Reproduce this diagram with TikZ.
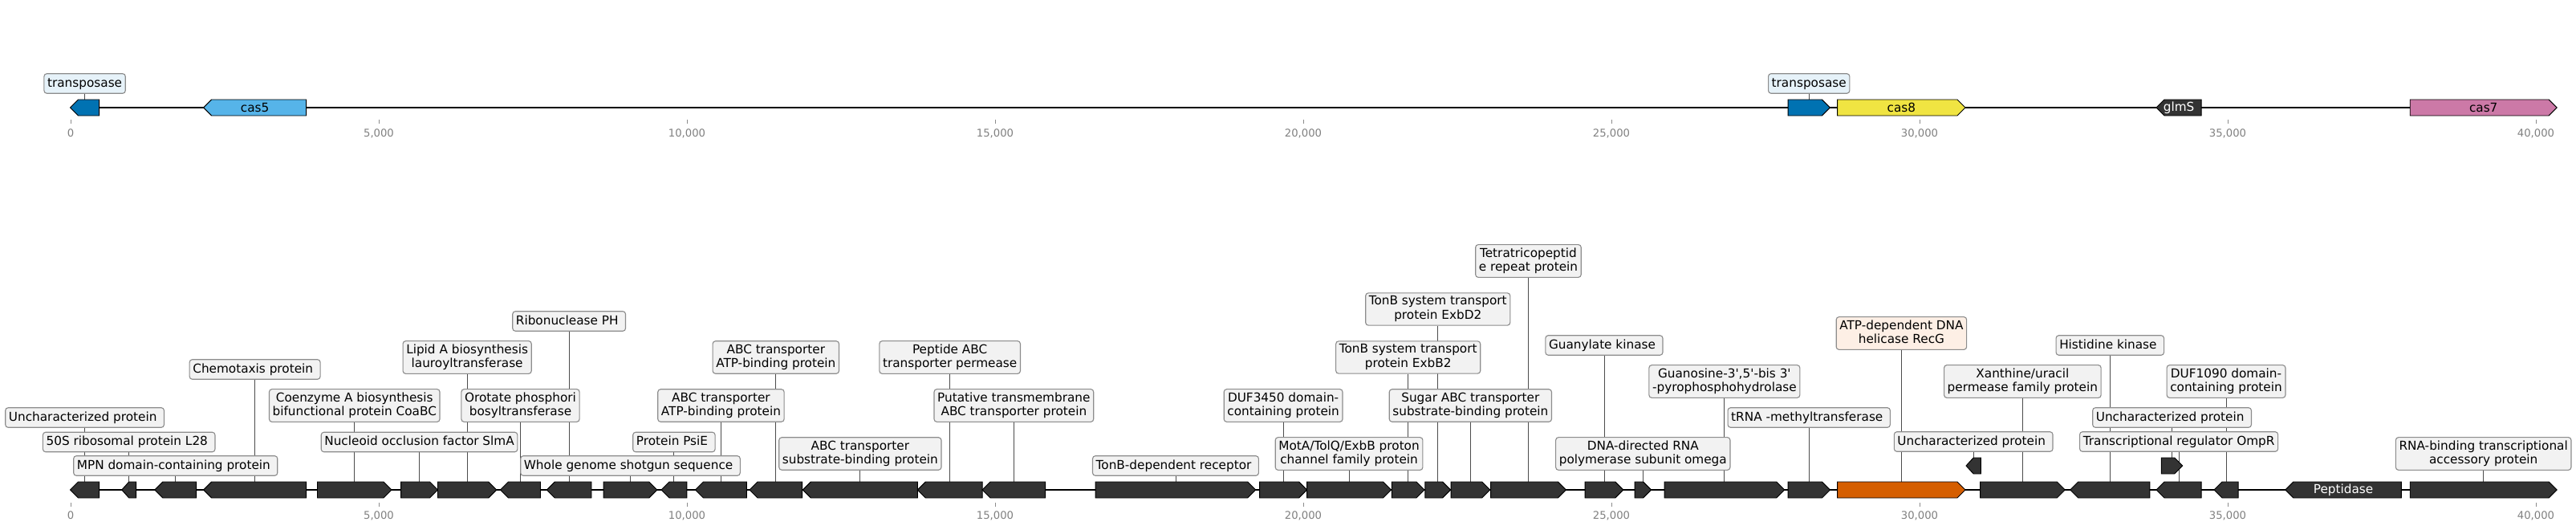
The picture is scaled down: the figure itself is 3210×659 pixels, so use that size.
\documentclass[tikz,border=0pt]{standalone}
\usepackage{fontspec}
\setmainfont{DejaVu Sans}
\usetikzlibrary{positioning}

\definecolor{darkgene}{HTML}{333333}
\definecolor{transp}{HTML}{0072B2}
\definecolor{casfive}{HTML}{56B4E9}
\definecolor{caseight}{HTML}{F0E442}
\definecolor{casseven}{HTML}{CC79A7}
\definecolor{recg}{HTML}{D55E00}
\definecolor{boxgray}{HTML}{F2F2F2}
\definecolor{boxblue}{HTML}{E6F2F9}
\definecolor{boxorange}{HTML}{FDEFE5}

\pgfdeclarelayer{bg}
\pgfsetlayers{bg,main}

\newcommand{\lblstrut}{\rule[-3pt]{0pt}{12pt}}
% #1 start, #2 end, #3 strand, #4 centre y, #5 fill
\newcommand{\drawgene}[5]{%
  \pgfmathsetmacro\hd{min(10,0.5*(#2-#1))}
  \ifnum#3>0
    \draw[genebox, fill=#5] (#1,#4-10) -- (#2-\hd,#4-10) -- (#2,#4) -- (#2-\hd,#4+10) -- (#1,#4+10) -- cycle;
  \else
    \draw[genebox, fill=#5] (#2,#4-10) -- (#1+\hd,#4-10) -- (#1,#4) -- (#1+\hd,#4+10) -- (#2,#4+10) -- cycle;
  \fi}

\begin{document}
\begin{tikzpicture}[x=0.72pt, y=-0.72pt,
  genebox/.style={draw=black, line width=0.7pt, line join=miter},
  lbl/.style={draw=black!45, fill=boxgray, rounded corners=2.5pt, line width=0.8pt, inner xsep=3pt, inner ysep=2.85pt, align=center, font=\fontsize{11}{12.3}\selectfont, execute at begin node=\lblstrut, execute at end node=\lblstrut},
  inlbl/.style={inner sep=0pt, font=\fontsize{11}{13}\selectfont},
  conn/.style={draw=black!70, line width=0.6pt},
  backbone/.style={draw=black, line width=1.2pt},
  tickmark/.style={draw=black!45, line width=0.6pt},
  ticklbl/.style={inner sep=0pt, text height=6.9pt, text depth=0pt, text=black!50, font=\fontsize{9.5}{11}\selectfont}]

  \useasboundingbox (0,0) rectangle (3210,659);

  % Top track
  \coordinate (topA) at (88,134);
  \coordinate (topB) at (3186.1,134);
  \draw[backbone] (topA) -- (topB);

  \drawgene{87.5}{123.7}{-1}{134}{transp}
  \drawgene{253.6}{381.7}{-1}{134}{casfive}
  \drawgene{2228}{2280.4}{1}{134}{transp}
  \drawgene{2289.7}{2449}{1}{134}{caseight}
  \drawgene{2687}{2743.2}{-1}{134}{darkgene}
  \drawgene{3003.2}{3186.1}{1}{134}{casseven}

  \node (cas5) [inlbl] at (317.6,134) {cas5};
  \node (cas8) [inlbl] at (2369.4,134) {cas8};
  \node (glmS) [inlbl, text=white] at (2715.1,134) {glmS};
  \node (cas7) [inlbl] at (3094.7,134) {cas7};

  \coordinate (tpA) at (105.6,124);
  \coordinate (tpB) at (2254.2,124);
  \node (ltpA) [lbl, fill=boxblue] at (105.6,104) {transposase};
  \node (ltpB) [lbl, fill=boxblue] at (2254.2,104) {transposase};
  \begin{pgfonlayer}{bg}
    \draw[conn] (tpA) -- (ltpA.south);
    \draw[conn] (tpB) -- (ltpB.south);
  \end{pgfonlayer}

  \foreach \k/\t in {0/0,1/{5,000},2/{10,000},3/{15,000},4/{20,000},5/{25,000},6/{30,000},7/{35,000},8/{40,000}} {
    \draw[tickmark] (88+384*\k,149) -- (88+384*\k,154);
    \node (ttop\k) [ticklbl] at (88+384*\k,166) {\t};
  }

  % Bottom track
  \coordinate (botA) at (88,610);
  \coordinate (botB) at (3186.1,610);
  \draw[backbone] (botA) -- (botB);

  \foreach \n/\s/\e/\d/\gy/\yl/\txt in {
    1/87.5/123.7/-1/610/520/{Uncharacterized protein\ },
    2/151.8/169.6/-1/610/550.5/{50S ribosomal protein L28\ },
    3/192.9/244.6/-1/610/580/{MPN domain-containing protein\ },
    4/253.6/381.7/-1/610/460/{Chemotaxis protein\ },
    5/395.5/488/1/610/505/{Coenzyme A biosynthesis\\bifunctional protein CoaBC},
    6/499.6/545.5/1/610/550.5/{Nucleoid occlusion factor SlmA},
    7/545.5/618.8/1/610/445/{Lipid A biosynthesis\\lauroyltransferase},
    8/623.5/673.5/-1/610/505/{Orotate phosphori\\bosyltransferase},
    9/681.3/737/-1/610/400/{Ribonuclease PH\ },
    10/752.2/818.8/1/610/580/{Whole genome shotgun sequence\ },
    11/824/855.8/-1/610/550.5/{Protein PsiE\ },
    12/866.5/930.4/-1/610/505/{ABC transporter\\ATP-binding protein},
    13/934/999.6/-1/610/445/{ABC transporter\\ATP-binding protein},
    14/1000.4/1143.3/-1/610/565/{ABC transporter\\substrate-binding protein},
    15/1143.3/1224/-1/610/445/{Peptide ABC\\transporter permease},
    16/1224/1302.7/-1/610/505/{Putative transmembrane\\ABC transporter protein},
    17/1365.2/1564.7/1/610/580/{TonB-dependent receptor\ },
    18/1569.6/1628.6/1/610/505/{DUF3450 domain-\\containing protein},
    19/1628.6/1733.5/1/610/565/{MotA/TolQ/ExbB proton\\channel family protein},
    20/1734.4/1775/1/610/445/{TonB system transport\\protein ExbB2},
    21/1775.9/1807.6/1/610/385/{TonB system transport\\protein ExbD2},
    22/1808/1856.7/1/610/505/{Sugar ABC transporter\\substrate-binding protein},
    23/1857.6/1951.3/1/610/325/{Tetratricopeptid\\e repeat protein},
    24/1975/2022.8/1/610/430/{Guanylate kinase\ },
    25/2037/2057.6/1/610/565/{DNA-directed RNA\\polymerase subunit omega},
    26/2074/2223.7/1/610/475/{Guanosine-3\textquotesingle,5\textquotesingle-bis 3\textquotesingle\\-pyrophosphohydrolase},
    27/2228/2280.4/1/610/520/{tRNA -methyltransferase\ },
    29/2450/2468.3/-1/580/550/{Uncharacterized protein\ },
    30/2467.5/2573.2/1/610/475/{Xanthine/uracil\\permease family protein},
    31/2579.7/2678.9/-1/610/430/{Histidine kinase\ },
    32/2687/2743.2/-1/610/550/{Transcriptional regulator OmpR},
    33/2693.4/2719.7/1/580/520/{Uncharacterized protein\ },
    34/2759/2789/-1/610/475/{DUF1090 domain-\\containing protein},
    36/3003.2/3186.1/1/610/565/{RNA-binding transcriptional\\accessory protein}} {
    \drawgene{\s}{\e}{\d}{\gy}{darkgene}
    \coordinate (g\n) at ({(\s+\e)/2},{\gy-10});
    \node (l\n) [lbl] at ({(\s+\e)/2},\yl) {\txt};
    \begin{pgfonlayer}{bg}
      \draw[conn] (g\n) -- (l\n.south);
    \end{pgfonlayer}
  }

  % RecG and Peptidase
  \drawgene{2289.7}{2449}{1}{610}{recg}
  \coordinate (g28) at (2369.4,600);
  \node (l28) [lbl, fill=boxorange] at (2369.4,415) {ATP-dependent DNA\\helicase RecG};
  \begin{pgfonlayer}{bg}
    \draw[conn] (g28) -- (l28.south);
  \end{pgfonlayer}
  \drawgene{2847.8}{2992.3}{-1}{610}{darkgene}
  \node (pep) [inlbl, text=white] at (2920,610) {Peptidase};

  \foreach \k/\t in {0/0,1/{5,000},2/{10,000},3/{15,000},4/{20,000},5/{25,000},6/{30,000},7/{35,000},8/{40,000}} {
    \draw[tickmark] (88+384*\k,626) -- (88+384*\k,631);
    \node (tbot\k) [ticklbl] at (88+384*\k,641.5) {\t};
  }
\end{tikzpicture}
\end{document}
